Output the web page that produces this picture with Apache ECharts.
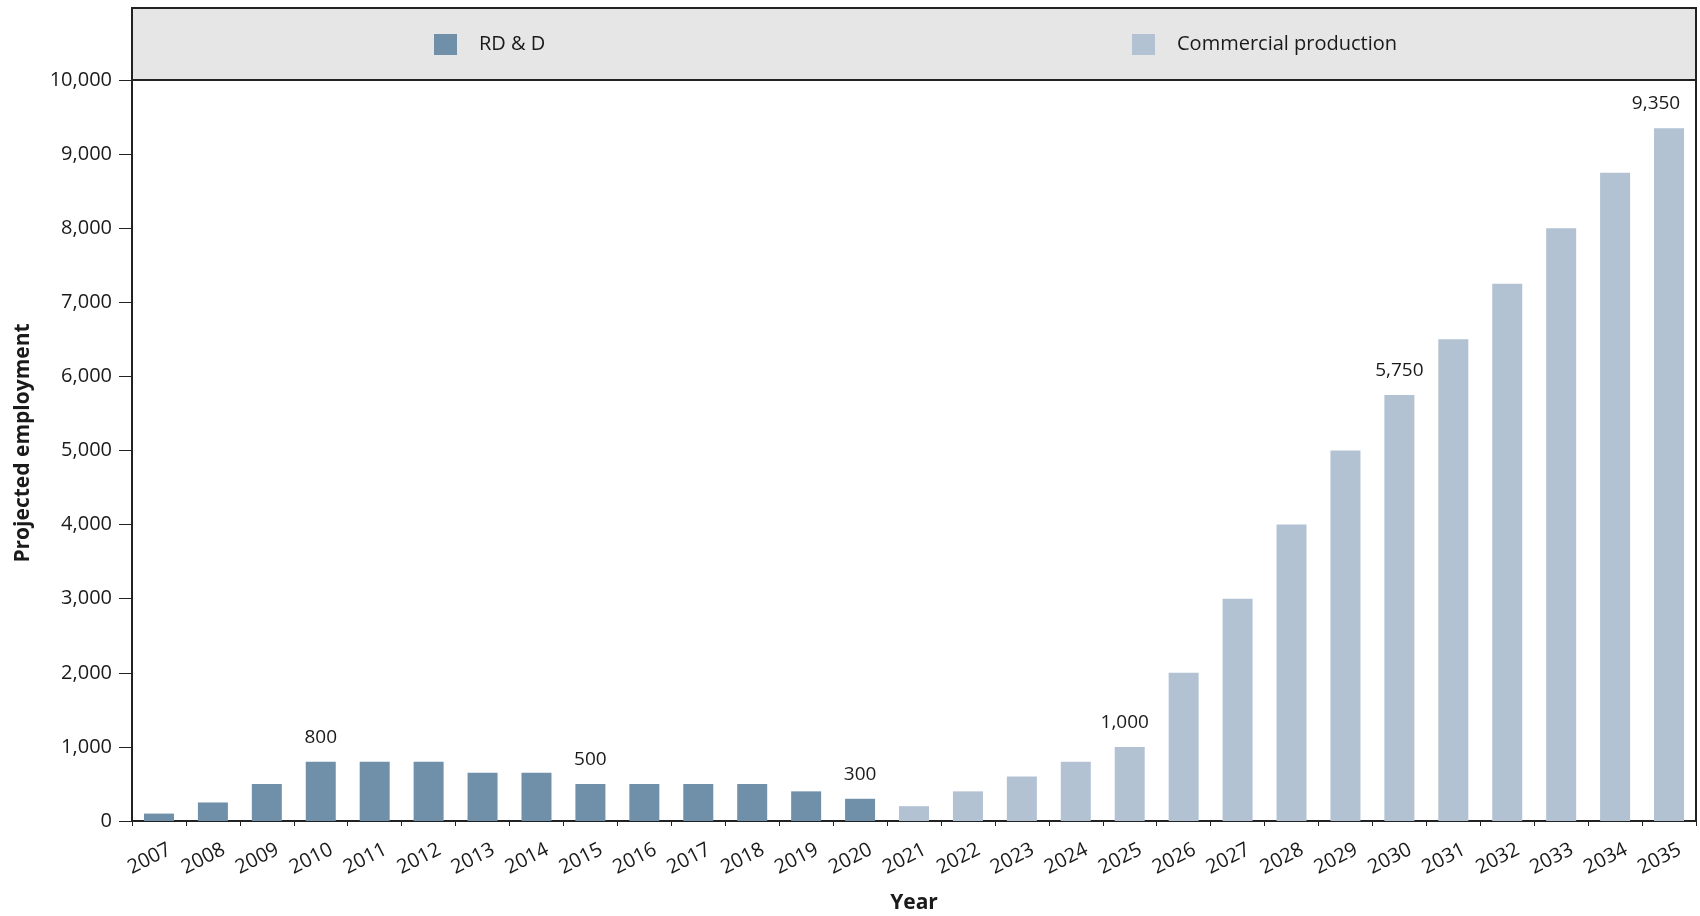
<!DOCTYPE html>
<html>
<head>
<meta charset="utf-8">
<script src="https://cdn.jsdelivr.net/npm/echarts@6/dist/echarts.min.js"></script>
<style>
  html, body { margin: 0; padding: 0; background: #ffffff; }
  #chart { width: 1700px; height: 916px; }
</style>
</head>
<body>
<div id="chart"></div>
<script>
// Projected employment by year, split by phase
const years = ['2007','2008','2009','2010','2011','2012','2013','2014','2015','2016',
  '2017','2018','2019','2020','2021','2022','2023','2024','2025','2026',
  '2027','2028','2029','2030','2031','2032','2033','2034','2035'];

const rddValues = [100, 250, 500, 800, 800, 800, 650, 650, 500, 500,
  500, 500, 400, 300];

const commercialValues = [200, 400, 600, 800, 1000, 2000, 3000, 4000, 5000, 5750,
  6500, 7250, 8000, 8750, 9350];

// Years whose bars carry a value label
const labelledYears = ['2010', '2015', '2020', '2025', '2030', '2035'];

const yTicks = [0, 1000, 2000, 3000, 4000, 5000, 6000, 7000, 8000, 9000, 10000];

// Small horizontal nudges for value labels that sit near a neighbour or the frame
const labelNudge = { '2025': -5, '2035': -13 };

const FONT = '"Open Sans", "Noto Sans", sans-serif';
const TEXT = '#1a1a1a';

function fmt(v) {
  return v.toLocaleString('en-US');
}

// Spread each phase across the full year axis, leaving blanks outside its span
function spread(values, startIndex) {
  return years.map((y, i) => {
    const k = i - startIndex;
    if (k < 0 || k >= values.length) return '-';
    const v = values[k];
    if (labelledYears.indexOf(y) >= 0) {
      return { value: v, label: { show: true, offset: [labelNudge[y] || 0, 0] } };
    }
    return v;
  });
}

const rddData = spread(rddValues, 0);
const commercialData = spread(commercialValues, rddValues.length);

const chart = echarts.init(document.getElementById('chart'), null, { renderer: 'canvas' });

const valueLabel = {
  show: false,
  position: 'top',
  distance: 15,
  fontFamily: FONT,
  fontSize: 19,
  color: TEXT,
  formatter: p => fmt(p.value)
};

const legendText = { fontFamily: FONT, fontSize: 20, color: TEXT, padding: [0, 0, 0, 17] };

chart.setOption({
  animation: false,
  backgroundColor: '#ffffff',
  textStyle: { fontFamily: FONT },
  graphic: [{
    type: 'rect',
    z: 0,
    shape: { x: 132, y: 8, width: 1564, height: 72 },
    style: { fill: '#e6e6e6', stroke: '#222222', lineWidth: 2 }
  }, {
    type: 'text',
    z: 10,
    x: 23, y: 443,
    rotation: Math.PI / 2,
    style: {
      text: 'Projected employment',
      fontFamily: FONT, fontSize: 21, fontWeight: 'bold', fill: TEXT,
      align: 'center', verticalAlign: 'middle'
    }
  }],
  legend: [{
    data: ['RD & D'],
    left: 434, top: 34, padding: 0,
    icon: 'rect', itemWidth: 23, itemHeight: 21,
    textStyle: legendText
  }, {
    data: ['Commercial production'],
    left: 1132, top: 34, padding: 0,
    icon: 'rect', itemWidth: 23, itemHeight: 21,
    textStyle: legendText
  }],
  grid: {
    left: 132, right: 4, top: 80, bottom: 95,
    outerBoundsMode: 'none',
    containLabel: false,
    show: true, borderColor: '#222222', borderWidth: 2, backgroundColor: 'transparent'
  },
  xAxis: {
    type: 'category',
    data: years,
    name: 'Year',
    nameLocation: 'middle',
    nameGap: 72,
    nameTextStyle: { fontFamily: FONT, fontSize: 21, fontWeight: 'bold', color: TEXT },
    axisLine: { lineStyle: { color: '#222222', width: 2 } },
    axisTick: { show: true, length: 5, lineStyle: { color: '#222222' } },
    axisLabel: {
      rotate: 27, margin: 6, interval: 0,
      align: 'right', verticalAlign: 'top',
      padding: [14, 0, 0, 0],
      fontFamily: FONT, fontSize: 20, color: TEXT
    }
  },
  yAxis: {
    type: 'value',
    min: 0, max: 10000, interval: 1000,
    axisLine: { show: true, lineStyle: { color: '#222222', width: 2 } },
    axisTick: { show: true, length: 13, lineStyle: { color: '#222222' } },
    splitLine: { show: false },
    axisLabel: {
      margin: 20,
      fontFamily: FONT, fontSize: 20, color: TEXT,
      formatter: v => yTicks.indexOf(v) >= 0 ? fmt(v) : ''
    }
  },
  series: [{
    name: 'RD & D',
    type: 'bar',
    stack: 'phase',
    barWidth: 30,
    itemStyle: { color: '#7090aa' },
    label: valueLabel,
    data: rddData
  }, {
    name: 'Commercial production',
    type: 'bar',
    stack: 'phase',
    barWidth: 30,
    itemStyle: { color: '#b2c2d3' },
    label: valueLabel,
    data: commercialData
  }]
});
</script>
</body>
</html>
